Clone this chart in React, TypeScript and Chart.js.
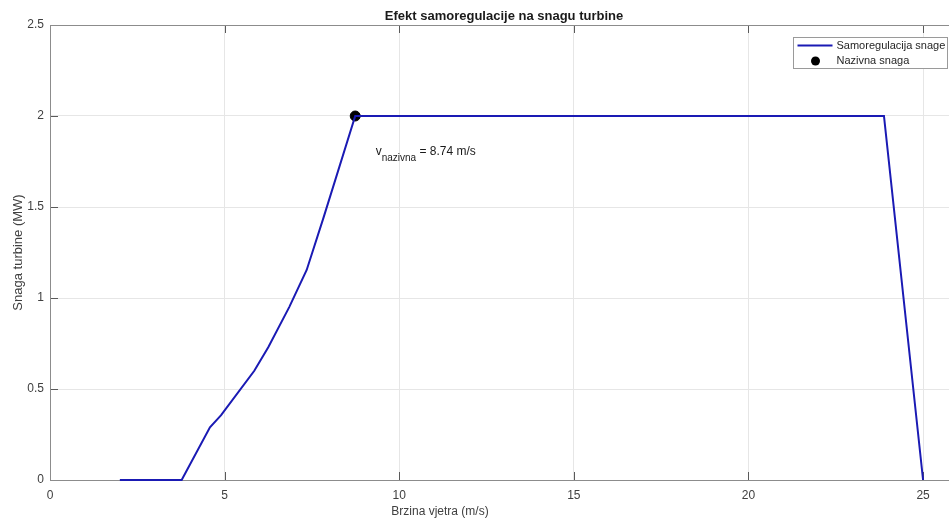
import React, { useEffect, useRef } from "react";
import { Chart, registerables } from "chart.js";

Chart.register(...registerables);

// Power curve of the turbine (wind speed in m/s, power in MW)
const windSpeed = [2, 3.77, 4.58, 4.9, 5.85, 6.25, 6.85, 7.35, 7.83, 8.74, 23.88, 25];
const turbinePower = [0, 0, 0.29, 0.356, 0.6, 0.73, 0.95, 1.154, 1.44, 2.0, 2.0, 0];

// Rated operating point
const ratedSpeed = [8.74];
const ratedPower = [2];

const xTicks = [0, 5, 10, 15, 20, 25];
const yTicks = [0, 0.5, 1, 1.5, 2, 2.5];

const seriesLabels = ["Samoregulacija snage", "Nazivna snaga"];
const titleText = "Efekt samoregulacije na snagu turbine";
const xTitle = "Brzina vjetra (m/s)";
const yTitle = "Snaga turbine (MW)";

const FONT = "'Liberation Sans', Arial, sans-serif";
const LINE_BLUE = "#1a1ab4";

const framePlugin = {
  id: "axesFrame",
  beforeDatasetsDraw(chart: any) {
    const { ctx, chartArea: a, scales } = chart;
    ctx.save();
    // tick marks pointing into the plot
    ctx.strokeStyle = "#5a5a5a";
    ctx.lineWidth = 1;
    ctx.beginPath();
    for (const v of xTicks) {
      const px = Math.round(scales.x.getPixelForValue(v)) + 0.5;
      ctx.moveTo(px, a.bottom);
      ctx.lineTo(px, a.bottom - 8);
      ctx.moveTo(px, a.top);
      ctx.lineTo(px, a.top + 8);
    }
    for (const v of yTicks) {
      const py = Math.round(scales.y.getPixelForValue(v)) + 0.5;
      ctx.moveTo(a.left, py);
      ctx.lineTo(a.left + 8, py);
      ctx.moveTo(a.right, py);
      ctx.lineTo(a.right - 8, py);
    }
    ctx.stroke();
    // axes box
    ctx.strokeStyle = "#8c8c8c";
    ctx.strokeRect(Math.round(a.left) + 0.5, Math.round(a.top) + 0.5, Math.round(a.right - a.left), Math.round(a.bottom - a.top));
    ctx.restore();
  },
  afterDraw(chart: any) {
    const { ctx, chartArea: a, scales } = chart;
    ctx.save();

    // title
    ctx.fillStyle = "#1a1a1a";
    ctx.font = `bold 13px ${FONT}`;
    ctx.textAlign = "center";
    ctx.textBaseline = "middle";
    ctx.fillText(titleText, (a.left + a.right) / 2, 16);

    // axis titles
    ctx.fillStyle = "#404040";
    ctx.font = `12px ${FONT}`;
    ctx.fillText(xTitle, 440, 512);
    ctx.font = `13px ${FONT}`;
    ctx.save();
    ctx.translate(18, (a.top + a.bottom) / 2);
    ctx.rotate(-Math.PI / 2);
    ctx.fillText(yTitle, 0, 0);
    ctx.restore();

    // rated speed annotation
    const tx = scales.x.getPixelForValue(ratedSpeed[0] + 0.5);
    const ty = scales.y.getPixelForValue(ratedPower[0] - 0.2);
    ctx.fillStyle = "#1a1a1a";
    ctx.textAlign = "left";
    ctx.textBaseline = "middle";
    ctx.font = `12px ${FONT}`;
    ctx.fillText("v", tx + 3, ty - 1);
    const vw = ctx.measureText("v").width;
    ctx.font = `10px ${FONT}`;
    ctx.fillText("nazivna", tx + 3 + vw, ty + 6);
    const sw = ctx.measureText("nazivna").width;
    ctx.font = `12px ${FONT}`;
    ctx.fillText(` = ${ratedSpeed[0].toFixed(2)} m/s`, tx + 3 + vw + sw, ty - 1);

    // legend box
    const bw = 154;
    const bh = 31;
    const bx = Math.round(a.right - 11 - bw) + 0.5;
    const by = Math.round(a.top + 12) + 0.5;
    ctx.fillStyle = "#ffffff";
    ctx.fillRect(bx, by, bw, bh);
    ctx.strokeStyle = "#9a9a9a";
    ctx.lineWidth = 1;
    ctx.strokeRect(bx, by, bw, bh);
    ctx.strokeStyle = LINE_BLUE;
    ctx.lineWidth = 2;
    ctx.beginPath();
    ctx.moveTo(bx + 4, by + 8);
    ctx.lineTo(bx + 39, by + 8);
    ctx.stroke();
    ctx.fillStyle = "#000000";
    ctx.beginPath();
    ctx.arc(bx + 22, by + 23.5, 4.5, 0, Math.PI * 2);
    ctx.fill();
    ctx.fillStyle = "#262626";
    ctx.font = `11px ${FONT}`;
    ctx.fillText(seriesLabels[0], bx + 43, by + 8);
    ctx.fillText(seriesLabels[1], bx + 43, by + 23.5);

    ctx.restore();
  },
};

export default function App() {
  const canvasRef = useRef<HTMLCanvasElement | null>(null);

  useEffect(() => {
    if (!canvasRef.current) return;
    const chart = new Chart(canvasRef.current, {
      type: "line",
      data: {
        datasets: [
          {
            label: seriesLabels[0],
            data: windSpeed.map((x, i) => ({ x, y: turbinePower[i] })),
            borderColor: LINE_BLUE,
            borderWidth: 2,
            pointRadius: 0,
            tension: 0,
            fill: false,
            clip: false as any,
          },
          {
            label: seriesLabels[1],
            data: ratedSpeed.map((x, i) => ({ x, y: ratedPower[i] })),
            showLine: false,
            pointRadius: 5,
            pointBackgroundColor: "#000000",
            pointBorderColor: "#000000",
            clip: false as any,
          },
        ],
      },
      options: {
        responsive: false,
        animation: false,
        devicePixelRatio: 1,
        layout: { padding: { top: 25, right: 12, left: 0, bottom: 0 } },
        plugins: {
          legend: { display: false },
          title: { display: false },
          tooltip: { enabled: false },
        },
        scales: {
          x: {
            type: "linear",
            min: 0,
            max: 26,
            afterFit: (s: any) => {
              s.height = 39;
            },
            afterBuildTicks: (s: any) => {
              s.ticks = xTicks.map((v) => ({ value: v }));
            },
            grid: { color: "#e6e6e6", drawTicks: false },
            border: { display: false },
            ticks: {
              padding: 8,
              color: "#404040",
              font: { size: 12, family: FONT },
              maxRotation: 0,
              callback: (v: any) => String(v),
            },
          },
          y: {
            type: "linear",
            min: 0,
            max: 2.5,
            afterFit: (s: any) => {
              s.width = 50;
            },
            afterBuildTicks: (s: any) => {
              s.ticks = yTicks.map((v) => ({ value: v }));
            },
            grid: { color: "#e6e6e6", drawTicks: false },
            border: { display: false },
            ticks: {
              padding: 6,
              color: "#404040",
              font: { size: 12, family: FONT },
              callback: (v: any) => String(v),
            },
          },
        },
      },
      plugins: [framePlugin],
    });
    return () => chart.destroy();
  }, []);

  return (
    <div
      style={{
        position: "absolute",
        left: 0,
        top: 0,
        width: 949,
        height: 519,
        overflow: "hidden",
        background: "#ffffff",
      }}
    >
      <canvas ref={canvasRef} width={970} height={519} style={{ width: 970, height: 519, display: "block" }} />
    </div>
  );
}
